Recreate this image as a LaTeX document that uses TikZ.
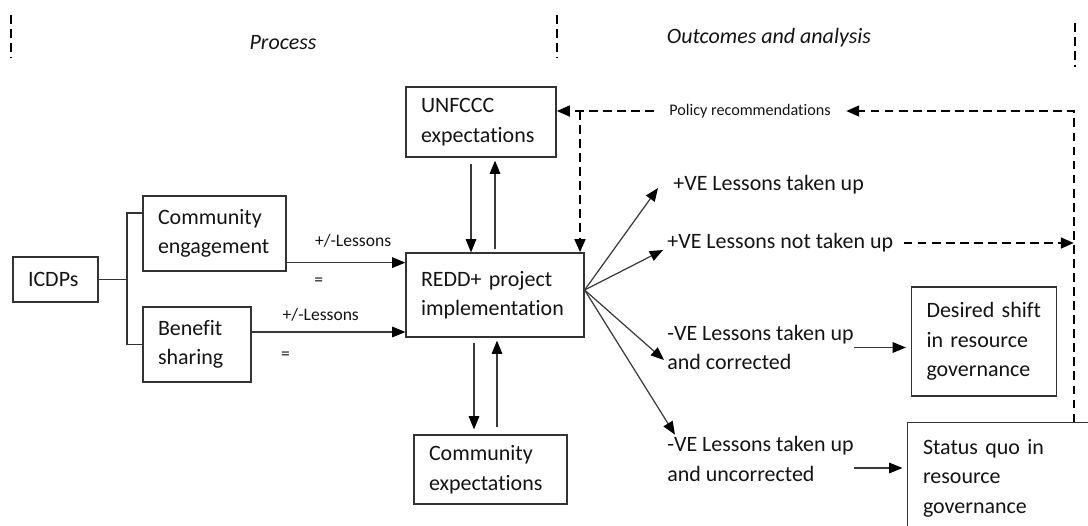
\documentclass[tikz,border=0pt]{standalone}
\usepackage{fontspec}
\setmainfont{Carlito}[Ligatures={NoCommon}]
\usepackage{xcolor}
\usepackage{tikz}
\usetikzlibrary{calc,arrows.meta}
\definecolor{ink}{HTML}{141414}
\definecolor{frame}{HTML}{333333}
\definecolor{wire}{HTML}{3A3A3A}
\newcommand{\bodyfont}{\fontsize{12.5}{16.8}\selectfont}
\tikzset{
  box/.style={draw=frame, line width=0.7pt, align=left, text=ink, font=\bodyfont, inner xsep=0.3cm, inner ysep=2pt},
  openbox/.style={box, draw=none},
  outcome/.style={align=left, text=ink, font=\bodyfont, inner sep=0pt, anchor=west},
  head/.style={text=ink, font=\bodyfont\itshape},
  lesson/.style={text=ink, font=\fontsize{10}{12}\selectfont, inner sep=0pt},
  policytext/.style={text=ink, font=\fontsize{9.2}{11}\selectfont, inner xsep=0.3cm},
  link/.style={draw=frame, line width=0.7pt},
  arr/.style={draw=wire, line width=0.7pt, -{Triangle[length=7.5pt,width=6pt,color=black]}},
  dasharr/.style={draw=black, line width=1.6pt, dash pattern=on 5pt off 3pt, -{Triangle[length=7.5pt,width=6pt]}},
  marker/.style={draw=black, line width=1.6pt, dash pattern=on 5pt off 3pt},
}

\begin{document}
\begin{tikzpicture}[x=0.02cm, y=-0.02cm]
  \useasboundingbox (0,0) rectangle (1088,525);

  % column markers and headings
  \draw[marker] (11,15) -- (11,58);
  \draw[marker] (557,15) -- (557,58);
  \draw[marker] (1075,23) -- (1075,67);
  \node[head] (proc) at (283,43) {Process};
  \node[head] (outc) at (769,38) {Outcomes and analysis};

  % boxes
  \node[box, text width=1.10cm, minimum height=0.90cm] (icdp) at (55.5,279.5) {ICDPs};
  \node[box, text width=2.26cm, minimum height=1.50cm] (engage) at (214.5,233.5) {Community\\engagement};
  \node[box, text width=1.56cm, minimum height=1.50cm] (benefit) at (197,344.5) {Benefit\\sharing};
  \node[box, text width=2.40cm, minimum height=1.40cm] (unfccc) at (481,122) {UNFCCC\\expectations};
  \node[box, text width=2.96cm, minimum height=1.68cm] (redd) at (495,295) {REDD+ project\\implementation};
  \node[box, text width=2.46cm, minimum height=1.38cm] (commexp) at (490.5,469.5) {Community\\expectations};
  \node[box, text width=2.30cm, minimum height=2.18cm] (desired) at (984,341.5) {Desired shift\\in resource\\governance};
  % runs off the page on the right and below
  \node[openbox, text width=3.50cm, minimum height=2.20cm] (statusquo) at (1010.5,478) {Status quo in\\resource\\governance};
  \draw[link] (statusquo.south west) -- (statusquo.north west) -- (statusquo.north east);

  % outcome labels
  \node[outcome] (plus1) at (673,185) {+VE Lessons taken up};
  \node[outcome] (plus2) at (667,243) {+VE Lessons not taken up};
  \node[outcome] (minus1) at (667,347.5) {-VE Lessons taken up\\and corrected};
  \node[outcome] (minus2) at (667,459) {-VE Lessons taken up\\and uncorrected};
  \node[policytext] (policy) at (750,111) {Policy recommendations};

  \coordinate (split) at (127,279.5);
  \coordinate (hub) at ([yshift=0.1cm]redd.east);
  \coordinate (branch) at (580,111);
  \coordinate (corner) at (1074,111);

  % ICDPs bracket
  \draw[link] (icdp.east) -- (split);
  \draw[link] ([yshift=0.41cm]engage.west) -| (split) |- (benefit.west);

  % lessons into the project
  \draw[arr] ([yshift=0.18cm]engage.south east) -- ([yshift=0.18cm]engage.south east -| redd.west)
    node[lesson, pos=0.56, yshift=0.44cm] {+/-Lessons}
    node[lesson, pos=0.27, yshift=-0.38cm] {=};
  \draw[arr] ([yshift=0.25cm]benefit.east) -- ([yshift=0.25cm]benefit.east -| redd.west)
    node[lesson, pos=0.45, yshift=0.34cm] {+/-Lessons}
    node[lesson, pos=0.22, yshift=-0.48cm] {=};

  % two-way links with the expectations
  \draw[arr] ($(unfccc.south)+(-10,6)$) -- ($(unfccc.south |- redd.north)+(-10,0)$);
  \draw[arr] ($(redd.north)+(0,-3)$) -- ($(redd.north |- unfccc.south)+(0,3)$);
  \draw[arr] ($(redd.south)+(-21,5)$) -- ($(redd.south |- commexp.north)+(-21,-5)$);
  \draw[arr] ($(redd.south |- commexp.north)+(2,-7)$) -- ($(redd.south)+(2,3)$);

  % outcomes fan
  \draw[arr] (hub) -- ([xshift=-0.3cm, yshift=-0.06cm]plus1.west);
  \draw[arr] (hub) -- ([xshift=-0.08cm, yshift=-0.14cm]plus2.west);
  \draw[arr] (hub) -- ([xshift=-0.06cm, yshift=-0.25cm]minus1.west);
  \draw[arr] (hub) -- ([xshift=0.16cm, yshift=0.03cm]minus2.north west);
  \draw[arr, shorten >=0.1cm] (minus1.east) -- (minus1.east -| desired.west);
  \draw[arr, shorten >=0.1cm] ([yshift=-0.18cm]minus2.east) -- ([yshift=-0.18cm]minus2.east -| statusquo.west);

  % feedback loop
  \draw[dasharr] (statusquo.north -| corner) -- (corner) -- (policy.east);
  \draw[dasharr] (policy.west) -- (policy.west -| unfccc.east);
  \draw[dasharr] (branch) -- (branch |- redd.north);
  \draw[dasharr] ([xshift=0.2cm]plus2.east) -- (plus2.east -| corner);
\end{tikzpicture}
\end{document}
